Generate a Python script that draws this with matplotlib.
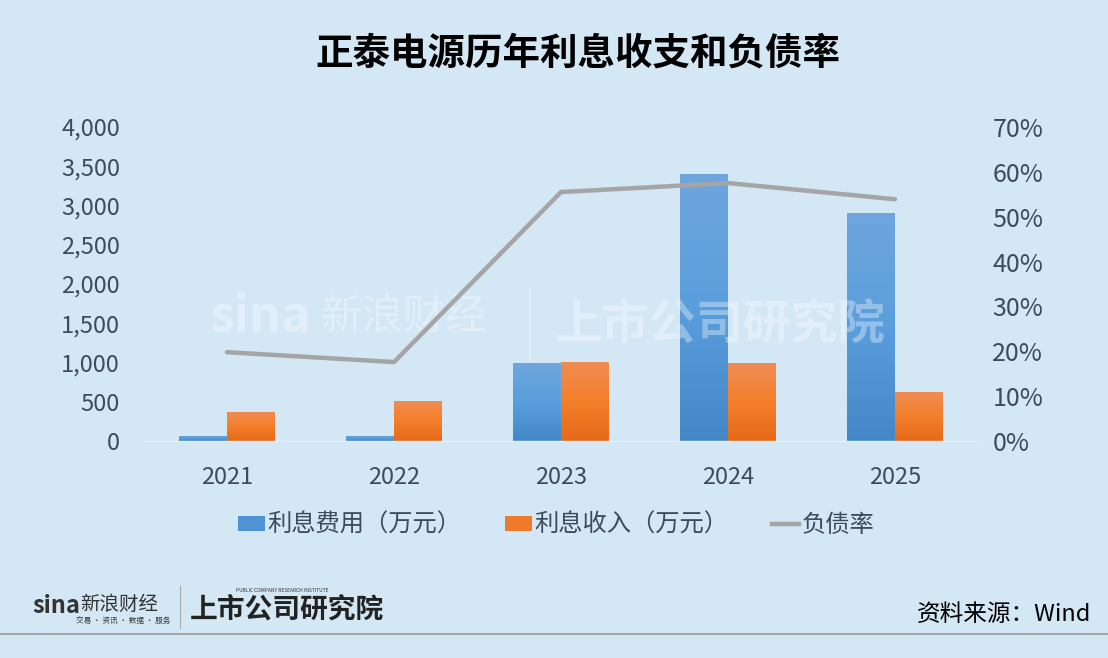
import matplotlib
matplotlib.use("Agg")
import matplotlib.pyplot as plt
import numpy as np
from matplotlib.colors import LinearSegmentedColormap
from matplotlib.lines import Line2D
from matplotlib.patches import Patch

plt.rcParams['font.family'] = ['Noto Sans CJK SC', 'DejaVu Sans']

years = ["2021", "2022", "2023", "2024", "2025"]
interest_expense = [70, 70, 990, 3400, 2900]
interest_income = [370, 510, 1010, 990, 620]
debt_ratio = [19.8, 17.6, 55.5, 57.5, 53.9]

title = "正泰电源历年利息收支和负债率"
legend_labels = ["利息费用（万元）", "利息收入（万元）", "负债率"]
source = "资料来源：Wind"

BG = "#d3e7f5"
TXT = "#3f4a5c"

W, H = 1108, 658
fig = plt.figure(figsize=(W / 100, H / 100), dpi=100, facecolor=BG)
ax = fig.add_axes([143.5 / W, 1 - 441 / H, (978.5 - 143.5) / W, (441 - 127) / H])
ax.set_facecolor("none")
ax2 = ax.twinx()

# faint watermark
fig.text(210 / W, 1 - 318 / H, "sina", ha="left", va="center", fontsize=36,
         fontweight="bold", fontstyle="italic", color="white", alpha=0.35, zorder=0)
fig.text(320 / W, 1 - 318 / H, "新浪财经", ha="left", va="center", fontsize=30,
         color="white", alpha=0.35, zorder=0)
fig.text(555 / W, 1 - 325 / H, "上市公司研究院", ha="left", va="center", fontsize=34,
         fontweight="bold", fontstyle="italic", color="white", alpha=0.35, zorder=0)
fig.add_artist(Line2D([530 / W, 530 / W], [1 - 360 / H, 1 - 288 / H], color="white",
                      alpha=0.45, lw=1.2, zorder=0))

x = np.arange(len(years))
bw = 0.285
bars1 = ax.bar(x - bw / 2, interest_expense, bw, color="#4f93d6", zorder=2)
bars2 = ax.bar(x + bw / 2, interest_income, bw, color="#f07a2c", zorder=2)

blue_cmap = LinearSegmentedColormap.from_list("b", ["#4387c8", "#5a9edd", "#6fa6dc"])
orange_cmap = LinearSegmentedColormap.from_list("o", ["#e66a18", "#f47f2a", "#ef8d55"])
grad = np.linspace(0, 1, 256).reshape(-1, 1)
for bars, cmap in ((bars1, blue_cmap), (bars2, orange_cmap)):
    for b in bars:
        x0, y0 = b.get_x(), b.get_y()
        w, h = b.get_width(), b.get_height()
        im = ax.imshow(grad, cmap=cmap, origin="lower", aspect="auto",
                       extent=[x0, x0 + w, y0, y0 + h], zorder=2.1)
        im.set_clip_path(b)

ax.set_xlim(-0.5, len(years) - 0.5)
ax.set_ylim(0, 4000)
ax.set_yticks(np.arange(0, 4001, 500))
ax.set_yticklabels([f"{v:,}" for v in range(0, 4001, 500)])
ax.set_xticks(x)
ax.set_xticklabels(years)

ax2.plot(x, debt_ratio, color="#a5a5a5", lw=3.2, solid_capstyle="round", zorder=3)
ax2.set_ylim(0, 70)
ax2.set_yticks(np.arange(0, 71, 10))
ax2.set_yticklabels([f"{v}%" for v in range(0, 71, 10)])

for a in (ax, ax2):
    for s in a.spines.values():
        s.set_visible(False)
    a.tick_params(length=0, labelsize=17, colors=TXT)
ax2.tick_params(axis="y", labelsize=18)
ax.spines["bottom"].set_visible(True)
ax.spines["bottom"].set_color("#e3eef7")
ax.spines["bottom"].set_linewidth(1)
ax.tick_params(axis="y", pad=17)
ax.tick_params(axis="x", pad=18)
ax2.tick_params(axis="y", pad=10)
ax2.set_zorder(ax.get_zorder() + 1)
ax2.patch.set_visible(False)

fig.text(578 / W, 1 - 53 / H, title, ha="center", va="center", fontsize=27,
         fontweight="bold", color="#000000")

handles = [Patch(facecolor="#4f93d6"), Patch(facecolor="#f07a2c"),
           Line2D([0], [0], color="#a5a5a5", lw=3.2)]
fig.legend(handles, legend_labels, loc="center", bbox_to_anchor=(0.502, 1 - 525 / H),
           ncol=3, frameon=False, fontsize=17.5, labelcolor=TXT, handlelength=1.1,
           handleheight=0.6, handletextpad=0.1, columnspacing=1.8)

fig.text(0.985, 1 - 614 / H, source, ha="right", va="center", fontsize=17, color="#000000")
fig.text(32 / W, 1 - 606 / H, "sina", ha="left", va="center", fontsize=17,
         fontweight="bold", fontstyle="italic", color="#333333")
fig.text(80 / W, 1 - 604 / H, "新浪财经", ha="left", va="center", fontsize=14, color="#333333")
fig.text(76 / W, 1 - 621 / H, "交易 · 资讯 · 数据 · 服务", ha="left", va="center",
         fontsize=5.5, color="#333333")
fig.add_artist(Line2D([180 / W, 180 / W], [1 - 628 / H, 1 - 586 / H], color="#aaaaaa", lw=0.8))
fig.text(190 / W, 1 - 610 / H, "上市公司研究院", ha="left", va="center", fontsize=20,
         fontweight="bold", fontstyle="italic", color="#222222")
fig.text(236 / W, 1 - 590 / H, "PUBLIC COMPANY RESEARCH INSTITUTE", ha="left",
         va="center", fontsize=3.5, color="#333333")
fig.add_artist(Line2D([0, 1], [1 - 634 / H, 1 - 634 / H], color="#a6a6a6", lw=1.5))

fig.savefig("out.png", dpi=100, facecolor=BG)
